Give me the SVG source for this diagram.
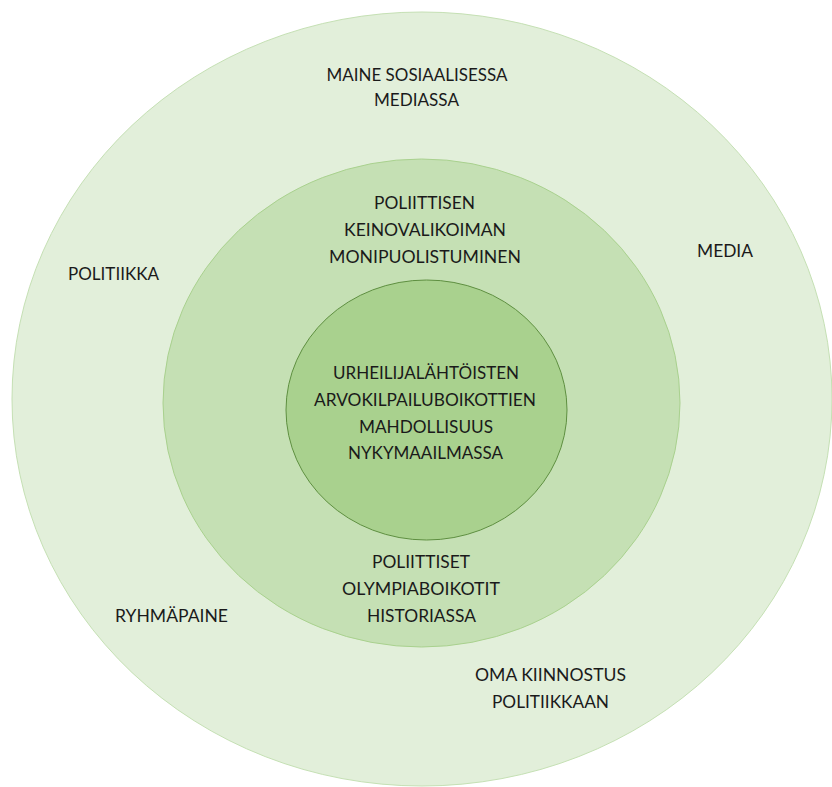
<svg xmlns="http://www.w3.org/2000/svg" width="832" height="787" viewBox="0 0 832 787">
  <style>
    .t { font-family: Lato, "Open Sans", "Liberation Sans", sans-serif; font-size: 17px; fill: #1a1a1a; text-anchor: middle; }
    .outer { fill: #e2efda; stroke: #c5e0b4; stroke-width: 1; }
    .middle { fill: #c5e0b4; stroke: #a9d18e; stroke-width: 1; }
    .inner { fill: #a9d18e; stroke: #5e8f40; stroke-width: 1; }
  </style>
  <rect width="832" height="787" fill="#ffffff"/>
  <g id="outer-ring">
    <ellipse class="outer" cx="422" cy="399" rx="410" ry="387"/>
    <text class="t" x="417" y="81" textLength="181" lengthAdjust="spacingAndGlyphs">MAINE SOSIAALISESSA</text>
    <text class="t" x="416.5" y="106" textLength="85" lengthAdjust="spacingAndGlyphs">MEDIASSA</text>
    <text class="t" x="113.5" y="280" textLength="91" lengthAdjust="spacingAndGlyphs">POLITIIKKA</text>
    <text class="t" x="725" y="257" textLength="56" lengthAdjust="spacingAndGlyphs">MEDIA</text>
    <text class="t" x="171.5" y="622" textLength="113" lengthAdjust="spacingAndGlyphs">RYHMÄPAINE</text>
    <text class="t" x="550.5" y="681" textLength="151" lengthAdjust="spacingAndGlyphs">OMA KIINNOSTUS</text>
    <text class="t" x="550.5" y="708" textLength="117" lengthAdjust="spacingAndGlyphs">POLITIIKKAAN</text>
  </g>
  <g id="middle-ring">
    <ellipse class="middle" cx="421.5" cy="403" rx="258.5" ry="244"/>
    <text class="t" x="424.5" y="209" textLength="101" lengthAdjust="spacingAndGlyphs">POLIITTISEN</text>
    <text class="t" x="425" y="236" textLength="162" lengthAdjust="spacingAndGlyphs">KEINOVALIKOIMAN</text>
    <text class="t" x="425" y="263" textLength="192" lengthAdjust="spacingAndGlyphs">MONIPUOLISTUMINEN</text>
    <text class="t" x="421" y="568" textLength="98" lengthAdjust="spacingAndGlyphs">POLIITTISET</text>
    <text class="t" x="421" y="595" textLength="158" lengthAdjust="spacingAndGlyphs">OLYMPIABOIKOTIT</text>
    <text class="t" x="421.5" y="622" textLength="109" lengthAdjust="spacingAndGlyphs">HISTORIASSA</text>
  </g>
  <g id="inner-core">
    <ellipse class="inner" cx="426.5" cy="410" rx="140.5" ry="130"/>
    <text class="t" x="426" y="379" textLength="186" lengthAdjust="spacingAndGlyphs">URHEILIJALÄHTÖISTEN</text>
    <text class="t" x="425" y="406" textLength="222" lengthAdjust="spacingAndGlyphs">ARVOKILPAILUBOIKOTTIEN</text>
    <text class="t" x="426" y="433" textLength="134" lengthAdjust="spacingAndGlyphs">MAHDOLLISUUS</text>
    <text class="t" x="425.5" y="459" textLength="155" lengthAdjust="spacingAndGlyphs">NYKYMAAILMASSA</text>
  </g>
  <g id="connectors"/>
</svg>
